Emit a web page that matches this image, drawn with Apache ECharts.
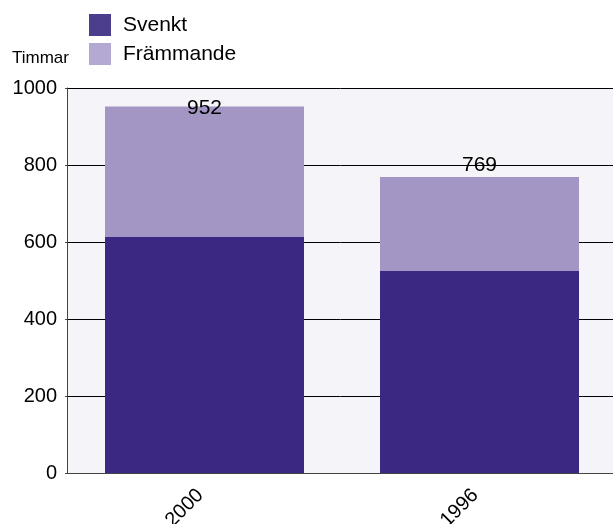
<!DOCTYPE html>
<html><head><meta charset="utf-8">
<script src="https://cdn.jsdelivr.net/npm/echarts@6/dist/echarts.min.js"></script>
<style>html,body{margin:0;padding:0;background:#fff}#c{width:613px;height:524px}</style>
</head><body><div id="c"></div>
<script>
var categories = ['2000', '1996'];
var svenkt = [613, 525];
var frammande = [339, 244];
var totals = [952, 769];
var yTicks = [0, 200, 400, 600, 800, 1000];

var chart = echarts.init(document.getElementById('c'));
var font = 'Liberation Sans, Arial, sans-serif';
chart.setOption({
  animation: false,
  textStyle: {fontFamily: font},
  legend: {
    orient: 'vertical', left: 84, top: 9, itemWidth: 22, itemHeight: 22, itemGap: 7,
    icon: 'rect', textStyle: {fontSize: 21, color: '#000', fontFamily: font, padding: [0, 0, 0, 7]},
    data: [{name: 'Svenkt', itemStyle: {color: '#4c3d8d'}},
           {name: 'Främmande', itemStyle: {color: '#b4a9d2'}}]
  },
  graphic: [{type: 'text', left: 12, top: 50, style: {text: 'Timmar', fontSize: 17, fill: '#000', fontFamily: font}}],
  grid: {left: 67, right: -4, top: 88, bottom: 51, show: true, backgroundColor: '#f5f4f9', borderWidth: 0,
    containLabel: false, outerBoundsMode: 'none'},
  xAxis: {
    type: 'category', data: categories,
    axisLine: {lineStyle: {color: '#444', width: 1}},
    axisTick: {show: false},
    axisLabel: {rotate: 45, fontSize: 20, color: '#000', margin: 15, fontFamily: font, padding: [0, 6, 0, 0]}
  },
  yAxis: {
    type: 'value', min: yTicks[0], max: yTicks[yTicks.length - 1], interval: 200,
    axisLine: {show: true, lineStyle: {color: '#444'}},
    axisTick: {show: true, length: 2, lineStyle: {color: '#444'}},
    axisLabel: {fontSize: 20, color: '#000', margin: 10, fontFamily: font, padding: [3, 0, 0, 0],
      formatter: function (v) { return String(v); }},
    splitLine: {lineStyle: {color: '#000', width: 1}}
  },
  series: [
    {name: 'Svenkt', type: 'bar', stack: 't', data: svenkt, barWidth: 199,
     itemStyle: {color: '#3b2883'}},
    {name: 'Främmande', type: 'bar', stack: 't', barWidth: 199,
     itemStyle: {color: '#a396c5'},
     data: frammande.map(function (v, i) {
       return {value: v, label: {show: true,
         position: i === 0 ? 'insideTop' : 'top',
         distance: i === 0 ? -9 : 1,
         formatter: function () { return String(totals[i]); },
         fontSize: 21, color: '#000', fontFamily: font}};
     })}
  ]
});
</script></body></html>
